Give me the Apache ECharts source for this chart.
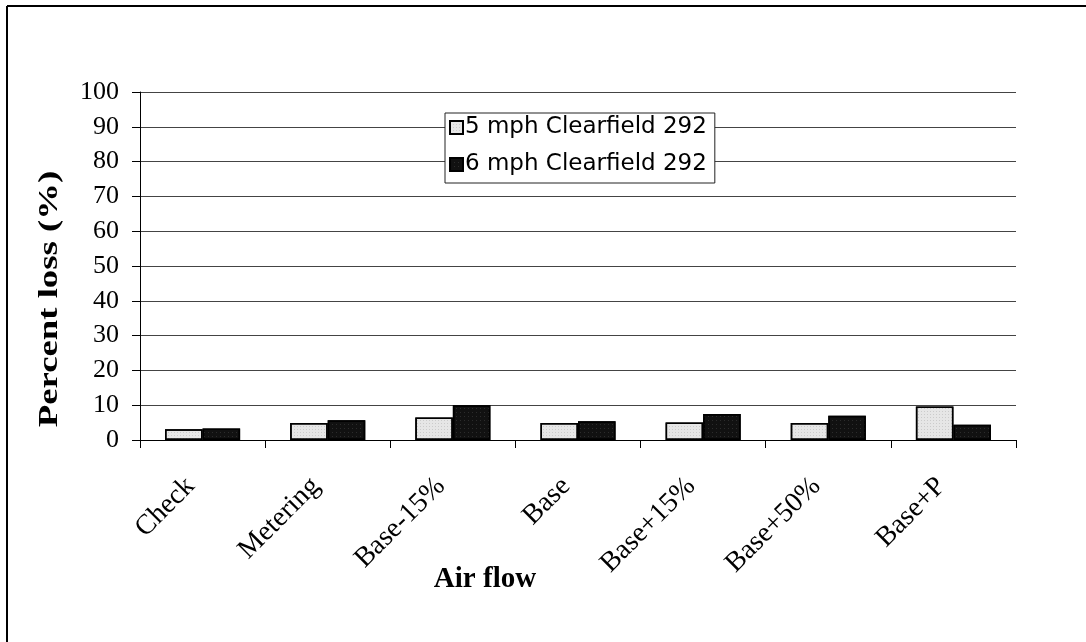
<!DOCTYPE html>
<html><head><meta charset="utf-8">
<script src="https://cdn.jsdelivr.net/npm/echarts@6/dist/echarts.min.js"></script>
<style>html,body{margin:0;padding:0;background:#fff}#c{width:1086px;height:642px}</style>
</head><body><div id="c"></div>
<script>
const categories = ['Check','Metering','Base-15%','Base','Base+15%','Base+50%','Base+P'];
const seriesNames = ['5 mph Clearfield 292','6 mph Clearfield 292'];
const mph5 = [3.1, 4.9, 6.5, 4.9, 5.0, 4.9, 9.6];
const mph6 = [3.3, 5.7, 10.0, 5.4, 7.5, 7.0, 4.4];
const yTicks = [0,10,20,30,40,50,60,70,80,90,100];

const chart = echarts.init(document.getElementById('c'), null, {renderer:'canvas'});
const serif = '"Liberation Serif","DejaVu Serif",serif';
const sans = '"DejaVu Sans","Liberation Sans",Arial,sans-serif';
chart.setOption({
  animation:false,
  backgroundColor:'#fff',
  grid:{left:140,right:70,top:92,bottom:202,containLabel:false},
  legend:{
    left:445, top:113, orient:'vertical',
    padding:[3,8,7,4], itemGap:14, itemWidth:13, itemHeight:13,
    borderColor:'#222', borderWidth:1, backgroundColor:'#fff',
    textStyle:{fontFamily:sans, fontSize:23, lineHeight:23, color:'#000', padding:[0,0,0,-3]},
    data: seriesNames.map(n=>({name:n, icon:'rect'}))
  },
  xAxis:{
    type:'category', data:categories,
    axisLine:{lineStyle:{color:'#000',width:1}},
    axisTick:{show:true, alignWithLabel:false, length:8, lineStyle:{color:'#000'}},
    axisLabel:{rotate:45, fontFamily:serif, fontSize:28, color:'#000', margin:30, padding:[0,17,0,0], interval:0}
  },
  yAxis:{
    type:'value', min:0, max:100, interval:10,
    axisLine:{show:true, lineStyle:{color:'#000',width:1}},
    axisTick:{show:true, inside:false, length:8, lineStyle:{color:'#000'}},
    axisLabel:{fontFamily:serif, fontSize:26, color:'#000', margin:21,
      formatter:v=> yTicks.includes(v) ? String(v) : ''},
    splitLine:{show:true, lineStyle:{color:'#444', width:1}}
  },
  series:[
    {name:seriesNames[0], type:'bar', data:mph5, barGap:'0%', barCategoryGap:'40%',
     itemStyle:{color:'#e6e6e6', borderColor:'#000', borderWidth:1.5,
       decal:{symbol:'rect', symbolSize:0.5, color:'rgba(0,0,0,0.45)', dashArrayX:[1,2], dashArrayY:[1,2], rotation:0}}},
    {name:seriesNames[1], type:'bar', data:mph6,
     itemStyle:{color:'#111', borderColor:'#000', borderWidth:1.5,
       decal:{symbol:'rect', symbolSize:0.5, color:'rgba(255,255,255,0.45)', dashArrayX:[1,3], dashArrayY:[1,3], rotation:0}}}
  ],
  graphic:[
    {type:'line', shape:{x1:7,y1:6,x2:1086,y2:6}, style:{stroke:'#000',lineWidth:2}},
    {type:'line', shape:{x1:7,y1:6,x2:7,y2:642}, style:{stroke:'#000',lineWidth:2}},
    {type:'text', x:50, y:299, rotation:Math.PI/2, scaleX:1.36, style:{text:'Percent loss (%)', font:'bold 27px '+serif, fill:'#000', align:'center', verticalAlign:'middle'}},
    {type:'text', x:485, y:580, style:{text:'Air flow', font:'bold 29px '+serif, fill:'#000', align:'center', verticalAlign:'middle'}}
  ]
});
</script></body></html>
